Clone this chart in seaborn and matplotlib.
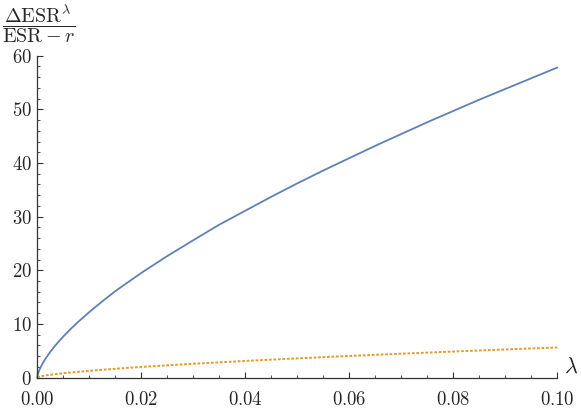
import numpy as np
import pandas as pd
import matplotlib
matplotlib.use("Agg")
import matplotlib.pyplot as plt
from matplotlib.ticker import MultipleLocator, FuncFormatter
import seaborn as sns

# values
lam_blue = [0.0, 0.0001, 0.0003, 0.0006, 0.001, 0.0015, 0.0025, 0.0035, 0.005, 0.0065,
            0.008, 0.01, 0.0125, 0.015, 0.0175, 0.02, 0.025, 0.03, 0.035, 0.04,
            0.045, 0.05, 0.055, 0.06, 0.065, 0.07, 0.075, 0.08, 0.085, 0.09,
            0.095, 0.10]
esr_blue = [0.0, 0.55, 1.15, 1.83, 2.58, 3.39, 4.79, 6.02, 7.65, 9.13,
            10.5, 12.2, 14.2, 16.1, 17.8, 19.5, 22.65, 25.6, 28.5, 31.1,
            33.7, 36.2, 38.6, 40.9, 43.2, 45.4, 47.6, 49.7, 51.8, 53.8,
            55.8, 57.8]
lam_orange = [0.0, 0.0005, 0.001, 0.0025, 0.005, 0.01, 0.015, 0.02, 0.03, 0.04,
              0.05, 0.06, 0.07, 0.08, 0.09, 0.10]
esr_orange = [0.0, 0.18, 0.28, 0.51, 0.80, 1.25, 1.63, 1.97, 2.56, 3.09,
              3.57, 4.02, 4.44, 4.84, 5.23, 5.6]

x_ticks = [0.0, 0.02, 0.04, 0.06, 0.08, 0.10]
y_ticks = [0, 10, 20, 30, 40, 50, 60]

sns.set_style("ticks")
plt.rcParams["mathtext.fontset"] = "cm"
plt.rcParams["font.family"] = ["DejaVu Serif"]

blue = "#5E81B5"
orange = "#E09C24"

fig = plt.figure(figsize=(5.81, 4.09), dpi=100)
ax = fig.add_axes([0.0642, 0.077, 0.895, 0.7868])

df_b = pd.DataFrame({"lam": lam_blue, "val": esr_blue})
df_o = pd.DataFrame({"lam": lam_orange, "val": esr_orange})
sns.lineplot(data=df_b, x="lam", y="val", ax=ax, color=blue, lw=1.3, clip_on=False)
sns.lineplot(data=df_o, x="lam", y="val", ax=ax, color=orange, lw=1.4,
             dashes=False, clip_on=False, linestyle=(0, (1.4, 0.9)))

ax.set_xlim(0, 0.10)
ax.set_ylim(0, 60)
ax.set_xticks(x_ticks)
ax.set_yticks(y_ticks)
ax.xaxis.set_minor_locator(MultipleLocator(0.005))
ax.yaxis.set_minor_locator(MultipleLocator(2))
ax.xaxis.set_major_formatter(FuncFormatter(lambda v, p: r"$%.2f$" % v))
ax.yaxis.set_major_formatter(FuncFormatter(lambda v, p: r"$%d$" % round(v)))

for s in ["top", "right"]:
    ax.spines[s].set_visible(False)
for s in ["left", "bottom"]:
    ax.spines[s].set_color("#333333")
    ax.spines[s].set_linewidth(0.9)

ax.tick_params(which="major", direction="in", length=4, width=0.8, color="#333333",
               labelsize=13.5)
ax.tick_params(axis="x", which="major", pad=9.5)
ax.tick_params(axis="y", which="major", pad=4)
ax.tick_params(which="minor", direction="in", length=2.3, width=0.6, color="#333333")
ax.set_xlabel("")
ax.set_ylabel("")

ax.text(1.012, 0.0, r"$\lambda$", transform=ax.transAxes, fontsize=16,
        ha="left", va="bottom")
fig.text(0.066, 0.942, r"$\dfrac{\Delta\mathrm{ESR}^{\lambda}}{\mathrm{ESR}-r}$",
         fontsize=14.5, ha="center", va="center")

fig.savefig("out.png", dpi=100)
